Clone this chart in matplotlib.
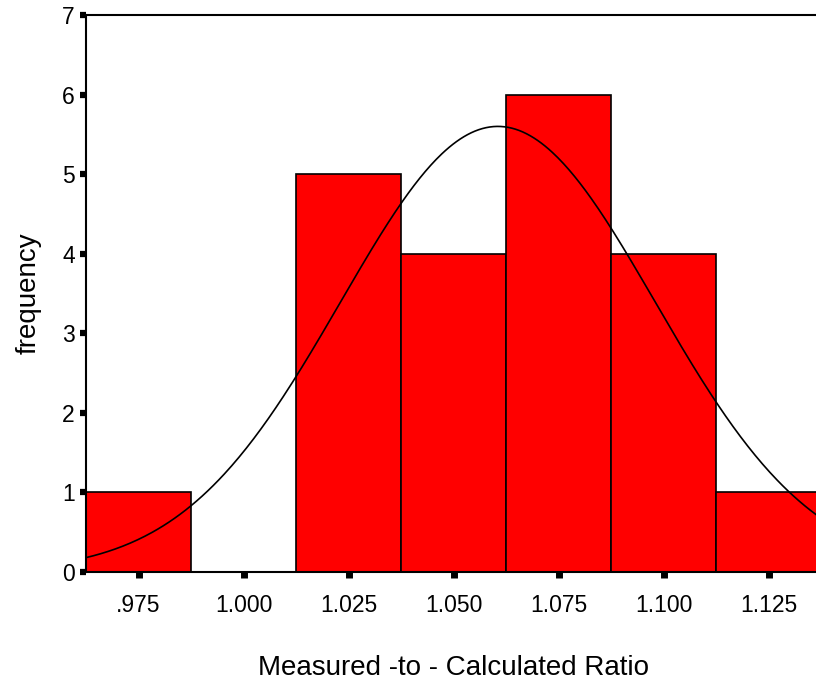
import numpy as np
import matplotlib
matplotlib.use("Agg")
import matplotlib.pyplot as plt
from matplotlib import rcParams

rcParams.update({
    "font.family": ["Liberation Sans", "DejaVu Sans"],
    "font.size": 15,
})

# ---- data ----
bin_centers = [0.975, 1.000, 1.025, 1.050, 1.075, 1.100, 1.125]
counts = [1, 0, 5, 4, 6, 4, 1]
bin_width = 0.025
tick_labels = [".975", "1.000", "1.025", "1.050", "1.075", "1.100", "1.125"]
# fitted normal curve parameters
fit_mean = 1.0605
fit_sd = 0.0374
n_obs = sum(counts)

fig = plt.figure(figsize=(8.16, 6.89), dpi=100)
ax = fig.add_axes([0.1054, 0.1698, 0.9013, 0.8084])

ax.bar(bin_centers, counts, width=bin_width, color="#ff0000",
       edgecolor="black", linewidth=1.2, zorder=2)

xs = np.linspace(bin_centers[0] - bin_width / 2, bin_centers[-1] + bin_width / 2, 400)
ys = n_obs * bin_width / (fit_sd * np.sqrt(2 * np.pi)) * np.exp(-0.5 * ((xs - fit_mean) / fit_sd) ** 2)
ax.plot(xs, ys, color="black", linewidth=1.2, zorder=3)

ax.set_xlim(bin_centers[0] - bin_width / 2, bin_centers[-1] + bin_width / 2)
ax.set_ylim(0, 7)
ax.set_xticks(bin_centers)
ax.set_xticklabels(tick_labels)
ax.set_yticks(range(0, 8))
ax.tick_params(axis="y", direction="out", length=4, width=4.5, pad=4, labelsize=16.5)
ax.tick_params(axis="x", direction="out", length=4, width=5, pad=12, labelsize=16.5)

for sp in ax.spines.values():
    sp.set_linewidth(1.5)

ax.set_ylabel("frequency", fontsize=20, labelpad=15)
ax.set_xlabel("Measured -to - Calculated Ratio", fontsize=20, labelpad=27)

fig.savefig("out.png", dpi=100)
